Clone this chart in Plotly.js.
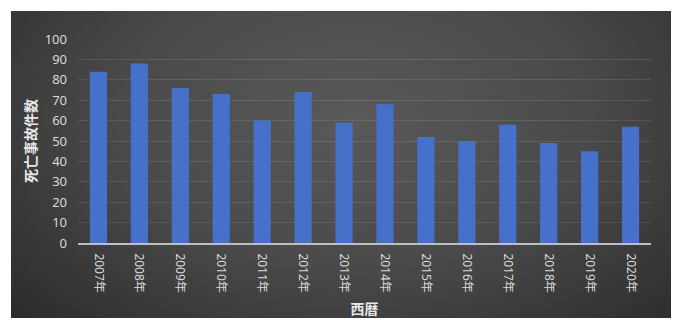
<!DOCTYPE html>
<html><head><meta charset="utf-8">
<script src="https://cdn.plot.ly/plotly-3.0.1.min.js"></script>
<style>
html,body{margin:0;padding:0;background:#fff;}
#wrap{position:relative;width:676px;height:320px;}
#bg{position:absolute;left:11px;top:11px;width:660px;height:307px;
 background:radial-gradient(ellipse 70% 95% at 52% 35%, #595959 0%, #4a4a4a 50%, #2c2c2c 100%);}
#chart{position:absolute;left:0;top:0;width:676px;height:320px;}
</style></head>
<body><div id="wrap"><div id="bg"></div><div id="chart"></div></div>
<script>
var years = ["2007年","2008年","2009年","2010年","2011年","2012年","2013年","2014年","2015年","2016年","2017年","2018年","2019年","2020年"];
var deaths = [84,88,76,73,60,74,59,68,52,50,58,49,45,57];
var yTicks = [0,10,20,30,40,50,60,70,80,90,100];

var fam = "'Noto Sans', 'Noto Sans CJK JP', sans-serif";
var tfam = "'Noto Sans CJK JP', sans-serif";
Plotly.newPlot('chart', [{
  type:'bar', x:years, y:deaths,
  marker:{color:'#4571cb', line:{width:0}},
  hoverinfo:'skip'
}], {
  width:676, height:320,
  margin:{l:78, r:25, t:39, b:77, pad:0},
  paper_bgcolor:'rgba(0,0,0,0)', plot_bgcolor:'rgba(0,0,0,0)',
  bargap:0.58,
  showlegend:false,
  font:{family:fam, color:'#d9d9d9', size:12},
  xaxis:{
    tickangle:90, ticks:'', showgrid:false,
    tickfont:{size:12, color:'#d9d9d9'},
    ticklabelstandoff:6,
    showline:true, linecolor:'#bfbfbf', linewidth:2,
    title:{text:'西暦', font:{size:14, color:'#e6e6e6', family:tfam, weight:'bold'}, standoff:12},
    fixedrange:true
  },
  yaxis:{
    range:[0,100], tickvals:yTicks, ticktext:yTicks.map(String),
    showgrid:true, gridcolor:'rgba(255,255,255,0.1)', gridwidth:1,
    zeroline:false, ticks:'', ticklabelstandoff:10,
    tickfont:{size:13, color:'#d9d9d9'},
    title:{text:'死亡事故件数', font:{size:14, color:'#e6e6e6', family:tfam, weight:'bold'}, standoff:4},
    fixedrange:true
  }
}, {staticPlot:true, displayModeBar:false});
</script></body></html>
